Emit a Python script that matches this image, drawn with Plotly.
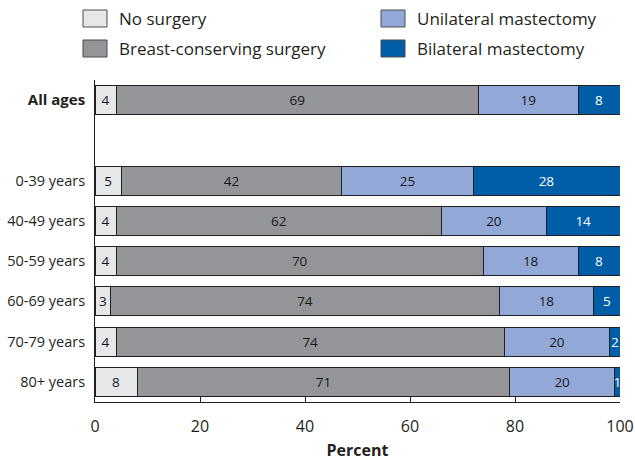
import plotly.graph_objects as go

# Surgery type by age group (percent of patients)
age_groups = ["All ages", "0-39 years", "40-49 years", "50-59 years",
              "60-69 years", "70-79 years", "80+ years"]
series_names = ["No surgery", "Breast-conserving surgery",
                "Unilateral mastectomy", "Bilateral mastectomy"]
no_surgery = [4, 5, 4, 4, 3, 4, 8]
breast_conserving = [69, 42, 62, 70, 74, 74, 71]
unilateral = [19, 25, 20, 18, 18, 20, 20]
bilateral = [8, 28, 14, 8, 5, 2, 1]
x_ticks = [0, 20, 40, 60, 80, 100]

colors = ["#e6e7e8", "#939598", "#92a9d7", "#005ea8"]
text_colors = ["#1a1718", "#1a1718", "#1a1718", "#ffffff"]
outline = "#231f20"
ink = "#231f20"

# "All ages" sits apart from the age bands, leaving an empty slot below it
y_pos = [0] + [i + 1 for i in range(1, len(age_groups))]
tick_text = ["<b><span style='font-size:15px'>" + age_groups[0] + "</span></b>"] + age_groups[1:]

W, H = 635, 461
L, R, T, B = 95, 15, 80, 59
pw, ph = W - L - R, H - T - B


def px_x(p):
    return (p - L) / pw


def px_y(p):
    return (H - B - p) / ph


fig = go.Figure()
for name, vals, col, tcol in zip(series_names,
                                 [no_surgery, breast_conserving, unilateral, bilateral],
                                 colors, text_colors):
    fig.add_trace(go.Bar(
        name=name, orientation="h", x=vals, y=y_pos, width=0.72,
        marker=dict(color=col, line=dict(color=outline, width=1)),
        text=[str(v) for v in vals], textposition="inside",
        insidetextanchor="middle", textangle=0, constraintext="none",
        textfont=dict(family="Open Sans", size=13.5, color=tcol),
        showlegend=False, hoverinfo="skip", cliponaxis=False,
    ))

# Legend drawn as swatches with labels, two columns
shapes, annotations = [], []
legend_cells = [(83, 18.5), (83, 48.5), (381, 18.5), (381, 48.5)]
for (sx, sy), name, col in zip(legend_cells, series_names, colors):
    shapes.append(dict(type="rect", xref="paper", yref="paper",
                       x0=px_x(sx), x1=px_x(sx + 24), y0=px_y(sy - 8.5), y1=px_y(sy + 8.5),
                       fillcolor=col, line=dict(color="#4d4d4f", width=1)))
    annotations.append(dict(xref="paper", yref="paper", x=px_x(sx + 34), y=px_y(sy),
                            text=name, showarrow=False, xanchor="left", yanchor="middle",
                            font=dict(family="Open Sans", size=17, color=ink)))

fig.update_layout(
    width=W, height=H,
    margin=dict(l=L, r=R, t=T, b=B),
    barmode="stack",
    plot_bgcolor="white", paper_bgcolor="white",
    shapes=shapes, annotations=annotations,
    uniformtext=dict(minsize=13, mode="show"),
    xaxis=dict(range=[0, 100], tickvals=x_ticks, showgrid=False, zeroline=False,
               automargin=False,
               showline=True, linecolor=ink, linewidth=1,
               ticks="inside", ticklen=5, tickcolor=ink,
               tickfont=dict(family="Open Sans", size=16, color=ink),
               ticklabelstandoff=10,
               title=dict(text="<b>Percent</b>", standoff=10,
                          font=dict(family="Open Sans", size=16, color=ink))),
    yaxis=dict(range=[7.5, -0.5], tickvals=y_pos, ticktext=tick_text,
               automargin=False,
               showgrid=False, zeroline=False, showline=True, linecolor=ink,
               linewidth=1, ticks="", ticklabelstandoff=6,
               tickfont=dict(family="Open Sans", size=14.5, color=ink)),
)

fig.write_html("out.html")
